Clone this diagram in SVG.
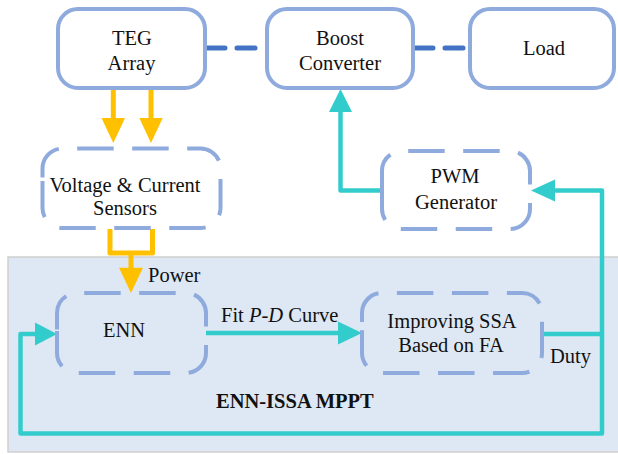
<svg xmlns="http://www.w3.org/2000/svg" width="618" height="454" viewBox="0 0 618 454" font-family="'Liberation Serif', 'DejaVu Serif', serif">
  <style>
    text { font-family: "Liberation Serif", "DejaVu Serif", serif; font-size: 20.5px; fill: #111; }
    .c { text-anchor: middle; }
    .b { font-weight: bold; }
    .box { fill: #fff; stroke: #8FAADC; stroke-width: 4; }
    .dbox { fill: none; stroke: #8FAADC; stroke-width: 4; stroke-dasharray: 36.5 18.5; }
    .link { fill: none; stroke: #4472C4; stroke-width: 5; stroke-dasharray: 19 12; stroke-linecap: round; }
    .yl { fill: none; stroke: #FFC000; stroke-width: 5; stroke-linejoin: round; }
    .yh { fill: #FFC000; }
    .tl { fill: none; stroke: #33CCCC; stroke-width: 4.5; stroke-linejoin: round; }
    .th { fill: #33CCCC; }
  </style>

  <!-- MPPT controller area -->
  <rect id="mppt-area" x="8" y="257" width="614" height="195" fill="#DEE8F4" stroke="#D0D0D0" stroke-width="1.5"/>

  <g id="connectors">
    <!-- power path links -->
    <line class="link" x1="206" y1="48" x2="255" y2="48"/>
    <line class="link" x1="414" y1="48" x2="463" y2="48"/>

    <!-- TEG array to sensors -->
    <path class="yl" d="M113.3,89 V120"/>
    <polygon class="yh" points="101.5,118 125,118 113.3,143"/>
    <path class="yl" d="M151,89 V120"/>
    <polygon class="yh" points="139.3,118 162.7,118 151,143"/>

    <!-- sensors to ENN (power) -->
    <path class="yl" d="M110,229 V253 H152.5 V229"/>
    <path class="yl" d="M131,253 V270"/>
    <polygon class="yh" points="119,267.7 143,267.7 131,293"/>

    <!-- ENN to ISSA -->
    <path class="tl" d="M206,333 H340"/>
    <polygon class="th" points="338,321.5 362,333 338,344.5"/>

    <!-- duty feedback loop -->
    <path class="tl" d="M542,334 H602 V433.5 H20.5 V334 H37"/>
    <polygon class="th" points="35,322.5 57,334 35,345.5"/>

    <!-- duty to PWM generator -->
    <path class="tl" d="M602,334 V190.5 H553"/>
    <polygon class="th" points="555,179.5 531,190.5 555,201.5"/>

    <!-- PWM generator to boost converter -->
    <path class="tl" d="M382,190.5 H340.5 V110"/>
    <polygon class="th" points="329,112 340.5,89 352,112"/>
  </g>

  <g id="teg-array">
    <rect class="box" x="58" y="9" width="147" height="79" rx="20"/>
    <text class="c" x="132" y="45">TEG</text>
    <text class="c" x="131.5" y="70">Array</text>
  </g>

  <g id="boost-converter">
    <rect class="box" x="267" y="9" width="146" height="79" rx="20"/>
    <text class="c" x="340" y="45">Boost</text>
    <text class="c" x="340" y="70">Converter</text>
  </g>

  <g id="load">
    <rect class="box" x="470" y="9" width="144" height="79" rx="20"/>
    <text class="c" x="544" y="55">Load</text>
  </g>

  <g id="sensors">
    <path class="dbox" d="M42.5,177.6 V168.5 A20,20 0 0 1 62.5,148.5 H200.5 A20,20 0 0 1 220.5,168.5 V208 A20,20 0 0 1 200.5,228 H62.5 A20,20 0 0 1 42.5,208 Z"/>
    <text class="c" x="125" y="191.5">Voltage &amp; Current</text>
    <text class="c" x="125" y="215">Sensors</text>
  </g>

  <g id="pwm-generator">
    <path class="dbox" d="M382,188.6 V171 A20,20 0 0 1 402,151 H510 A20,20 0 0 1 530,171 V209 A20,20 0 0 1 510,229 H402 A20,20 0 0 1 382,209 Z"/>
    <text class="c" x="455" y="183">PWM</text>
    <text class="c" x="456" y="209">Generator</text>
  </g>

  <g id="enn">
    <path class="dbox" d="M57,329.6 V313 A20,20 0 0 1 77,293 H186 A20,20 0 0 1 206,313 V353 A20,20 0 0 1 186,373 H77 A20,20 0 0 1 57,353 Z"/>
    <text class="c" x="124" y="336.5">ENN</text>
  </g>

  <g id="issa">
    <path class="dbox" d="M362,321.9 V313 A20,20 0 0 1 382,293 H522 A20,20 0 0 1 542,313 V353 A20,20 0 0 1 522,373 H382 A20,20 0 0 1 362,353 Z"/>
    <text class="c" x="452" y="328">Improving SSA</text>
    <text class="c" x="451" y="352">Based on FA</text>
  </g>

  <g id="labels">
    <text x="148" y="282">Power</text>
    <text x="221" y="322">Fit <tspan font-style="italic">P</tspan>-<tspan font-style="italic">D</tspan> Curve</text>
    <text x="550" y="363">Duty</text>
    <text class="b" x="216" y="408">ENN-ISSA MPPT</text>
  </g>
</svg>
